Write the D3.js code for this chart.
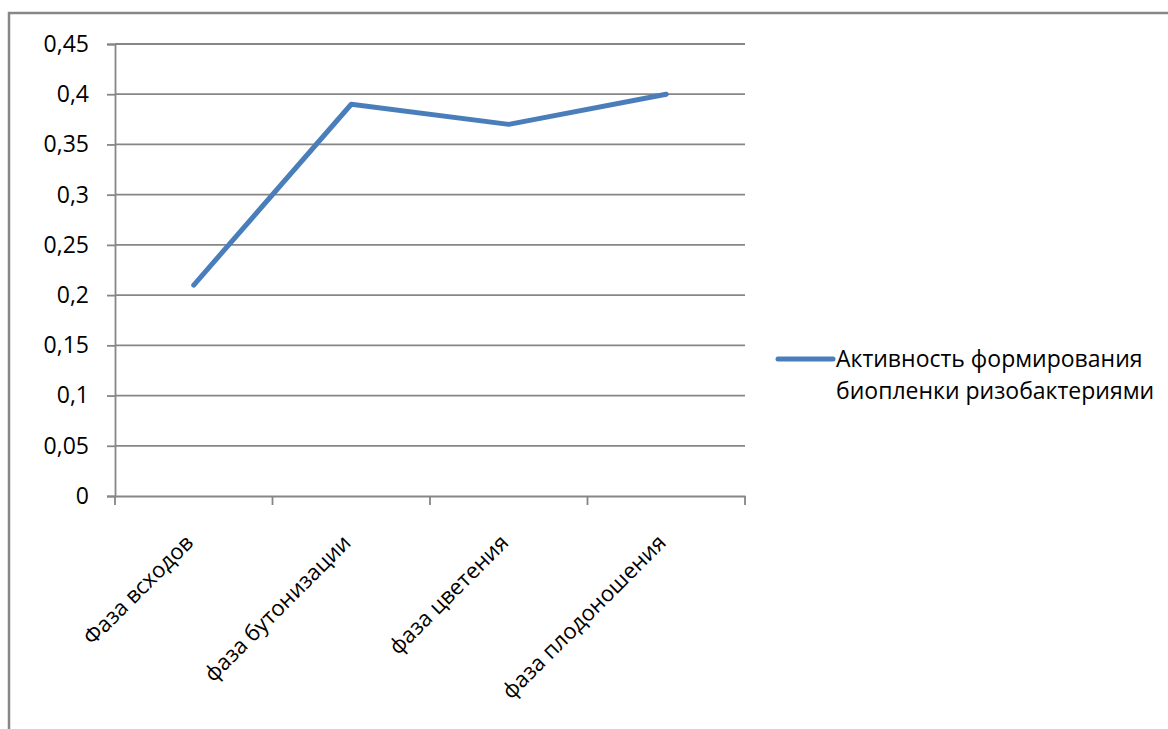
<!DOCTYPE html>
<html><head><meta charset="utf-8">
<script src="https://cdn.jsdelivr.net/npm/d3@7"></script>
<style>body{margin:0;background:#fff}svg{display:block}</style>
</head><body>
<svg id="c" width="1168" height="729"></svg>
<script>
const categories = ["Фаза всходов", "фаза бутонизации", "фаза цветения", "фаза плодоношения"];
const values = [0.21, 0.39, 0.37, 0.40];
const yTicks = [0, 0.05, 0.1, 0.15, 0.2, 0.25, 0.3, 0.35, 0.4, 0.45];
const seriesName = ["Активность формирования", "биопленки ризобактериями"];

const svg = d3.select("#c");
const font = "'Open Sans', sans-serif";
const grid = "#868686";
const lineColor = "#4a7ebb";

svg.append("rect").attr("x", 9).attr("y", 13).attr("width", 1170).attr("height", 730)
  .attr("fill", "none").attr("stroke", "#878787").attr("stroke-width", 2.5);

const L = 115, R = 745, T = 44, B = 496;
const x = d3.scaleBand().domain(categories).range([L, R]).padding(0);
const y = d3.scaleLinear().domain([0, 0.45]).range([B, T]);

// gridlines
svg.append("g").selectAll("line").data(yTicks.filter(d => d > 0)).join("line")
  .attr("x1", L).attr("x2", R).attr("y1", d => y(d)).attr("y2", d => y(d))
  .attr("stroke", grid).attr("stroke-width", 1.8);

// y axis
const yAxis = svg.append("g").attr("transform", `translate(${L},0)`)
  .call(d3.axisLeft(y).tickValues(yTicks).tickSize(8).tickPadding(18)
    .tickFormat(d => String(+d.toFixed(2)).replace(".", ",")));
yAxis.select(".domain").attr("stroke", grid).attr("stroke-width", 1.8);
yAxis.selectAll(".tick line").attr("stroke", grid).attr("stroke-width", 1.8);
yAxis.selectAll(".tick text").attr("font-family", font).attr("font-size", 23).attr("fill", "#000");

// x axis
const xAxis = svg.append("g").attr("transform", `translate(0,${B})`)
  .call(d3.axisBottom(x).tickSize(0).tickFormat(""));
xAxis.select(".domain").attr("stroke", grid).attr("stroke-width", 1.8);
const bounds = categories.map(c => x(c)).concat([R]);
xAxis.append("g").selectAll("line").data(bounds).join("line")
  .attr("x1", d => d).attr("x2", d => d).attr("y1", 0).attr("y2", 9)
  .attr("stroke", grid).attr("stroke-width", 1.8);

svg.append("g").selectAll("text").data(categories).join("text")
  .attr("transform", d => `translate(${x(d) + x.bandwidth() / 2 + 1},${B + 48}) rotate(-45)`)
  .attr("text-anchor", "end")
  .attr("font-family", font).attr("font-size", 22).attr("fill", "#000")
  .text(d => d);

// line
const line = d3.line().x((d, i) => x(categories[i]) + x.bandwidth() / 2).y(d => y(d));
svg.append("path").datum(values).attr("d", line)
  .attr("fill", "none").attr("stroke", lineColor).attr("stroke-width", 5)
  .attr("stroke-linecap", "round").attr("stroke-linejoin", "round");

// legend
svg.append("line").attr("x1", 778).attr("x2", 833).attr("y1", 359).attr("y2", 359)
  .attr("stroke", lineColor).attr("stroke-width", 5).attr("stroke-linecap", "round");
svg.append("g").selectAll("text").data(seriesName).join("text")
  .attr("x", 836).attr("y", (d, i) => 367 + i * 32)
  .attr("font-family", font).attr("font-size", 23).attr("fill", "#000")
  .text(d => d);
</script>
</body></html>
